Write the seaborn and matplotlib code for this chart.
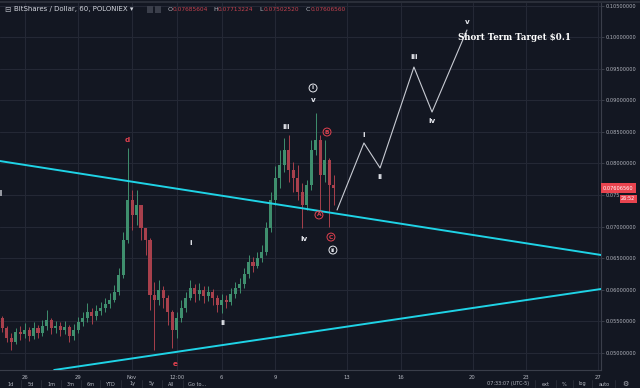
import numpy as np
import pandas as pd
import matplotlib
matplotlib.use("Agg")
import matplotlib.pyplot as plt
import seaborn as sns
from matplotlib.lines import Line2D
from matplotlib.patches import Rectangle

BG = "#131722"
GRID = "#242835"
TEXT = "#b2b5be"
UP = "#3f8f6e"
DOWN = "#a8404c"
RED = "#e0414f"
CYAN = "#1fd3e6"
WHITE = "#e6e8ee"

# 6-hour candles, x = day of October (Nov 1 = 32)
candle_start_day = 24.75
candle_step = 0.25
first_open = 0.0555
closes = [
    0.05391, 0.05233, 0.05169, 0.05328, 0.05296, 0.05360, 0.05265, 0.05391, 0.05312, 0.05423,
    0.05518, 0.05391, 0.05423, 0.05360, 0.05407, 0.05265, 0.05360, 0.05486, 0.05550, 0.05645,
    0.05582, 0.05661, 0.05708, 0.05772, 0.05835, 0.05962, 0.06232, 0.06786, 0.07420, 0.07183,
    0.07341, 0.06976, 0.06786, 0.05915, 0.05835, 0.05994, 0.05867, 0.05645, 0.05360, 0.05550,
    0.05708, 0.05867, 0.06026, 0.05931, 0.05994, 0.05899, 0.05962, 0.05867, 0.05756, 0.05835,
    0.05804, 0.05931, 0.06026, 0.06089, 0.06248, 0.06438, 0.06374, 0.06501, 0.06596, 0.06976,
    0.07420, 0.07769, 0.07975, 0.08213, 0.07896, 0.07769, 0.07547, 0.07341, 0.07658, 0.08213,
    0.08371, 0.07817, 0.08054, 0.07658, 0.07607,
]
highs = [
    0.05582, 0.05423, 0.05312, 0.05391, 0.05423, 0.05470, 0.05407, 0.05486, 0.05439, 0.05518,
    0.05677, 0.05550, 0.05502, 0.05486, 0.05502, 0.05439, 0.05455, 0.05566, 0.05645, 0.05788,
    0.05708, 0.05756, 0.05804, 0.05867, 0.05946, 0.06073, 0.06343, 0.06913, 0.08245, 0.07579,
    0.07579, 0.07341, 0.06945, 0.06818, 0.06121, 0.06152, 0.06057, 0.05915, 0.05677, 0.05645,
    0.05835, 0.05962, 0.06152, 0.06089, 0.06105, 0.06057, 0.06057, 0.06010, 0.05915, 0.05931,
    0.05915, 0.06026, 0.06121, 0.06184, 0.06343, 0.06549, 0.06517, 0.06596, 0.06707, 0.07072,
    0.07547, 0.07959, 0.08213, 0.08403, 0.08451, 0.08023, 0.07975, 0.07690, 0.07737, 0.08371,
    0.08799, 0.08451, 0.08371, 0.08086, 0.07817,
]
lows = [
    0.05328, 0.05169, 0.05043, 0.05137, 0.05201, 0.05233, 0.05185, 0.05217, 0.05233, 0.05265,
    0.05360, 0.05296, 0.05312, 0.05265, 0.05296, 0.05169, 0.05201, 0.05312, 0.05423, 0.05486,
    0.05455, 0.05518, 0.05598, 0.05645, 0.05708, 0.05804, 0.05915, 0.06184, 0.06739, 0.06945,
    0.07024, 0.06786, 0.06549, 0.05677, 0.05043, 0.05756, 0.05708, 0.05439, 0.05074, 0.05233,
    0.05486, 0.05645, 0.05835, 0.05804, 0.05835, 0.05788, 0.05820, 0.05756, 0.05645, 0.05629,
    0.05708, 0.05756, 0.05867, 0.05946, 0.06026, 0.06184, 0.06279, 0.06343, 0.06438, 0.06549,
    0.06913, 0.07341, 0.07611, 0.07864, 0.07706, 0.07547, 0.07420, 0.06976, 0.07262, 0.07579,
    0.08134, 0.07262, 0.07706, 0.06992, 0.07341,
]

# trend lines
upper_days = [24.63, 58.17]
upper_prices = [0.08038, 0.06549]
lower_days = [27.65, 58.17]
lower_prices = [0.04726, 0.06010]

# projected wave path
proj_days = [43.44, 44.94, 45.84, 47.73, 48.74, 50.69]
proj_prices = [0.07262, 0.08324, 0.07928, 0.09528, 0.08815, 0.10115]

# wave labels: text, day, price, colour, circled
wave_labels = [
    ("d", 31.72, 0.08372, "red", False),
    ("e", 34.40, 0.04818, "red", False),
    ("i", 35.29, 0.06739, "white", False),
    ("ii", 37.08, 0.05471, "white", False),
    ("iii", 40.59, 0.08578, "white", False),
    ("iv", 41.60, 0.06801, "white", False),
    ("v", 42.10, 0.09006, "white", False),
    ("i", 42.10, 0.09196, "white", True),
    ("A", 42.43, 0.07183, "red", True),
    ("B", 42.88, 0.08498, "red", True),
    ("C", 43.10, 0.06833, "red", True),
    ("ii", 43.21, 0.06627, "white", True),
    ("i", 44.94, 0.08451, "white", False),
    ("ii", 45.84, 0.07785, "white", False),
    ("iii", 47.73, 0.09687, "white", False),
    ("iv", 48.74, 0.08672, "white", False),
    ("v", 50.69, 0.10242, "white", False),
]

tick_days = [26, 29, 32, 34.5, 37, 40, 44, 47, 51, 54, 58]
tick_labels = ["26", "29", "Nov", "12:00", "6", "9", "13", "16", "20", "23", "27"]
price_ticks = [0.050, 0.055, 0.060, 0.065, 0.070, 0.075, 0.080, 0.085, 0.090, 0.095, 0.100, 0.105]
# the 0.075 label is partly covered by the countdown box in the original
price_labels = ["0.05000000", "0.05500000", "0.06000000", "0.06500000", "0.07000000", "0.075",
                "0.08000000", "0.08500000", "0.09000000", "0.09500000", "0.10000000", "0.10500000"]

ohlc = [("O", "0.07685604"), ("H", "0.07713224"), ("L", "0.07502520"), ("C", "0.07606560")]
last_price_text = "0.07606560"
timer_text = "26:52"

sns.set_theme(style="dark")
plt.rcParams["font.family"] = ["DejaVu Sans"]

fig = plt.figure(figsize=(6.4, 3.88), dpi=100)
fig.patch.set_facecolor(BG)
W, H = 640, 388
ax = fig.add_axes([0, (H - 370) / H, 601 / W, 367 / H])
ax.set_facecolor(BG)

df = pd.DataFrame({"close": closes, "high": highs, "low": lows})
df["day"] = candle_start_day + candle_step * np.arange(len(df))
df["open"] = [first_open] + closes[:-1]
df["high"] = df[["high", "open", "close"]].max(axis=1)
df["low"] = df[["low", "open", "close"]].min(axis=1)
up = df["close"] >= df["open"]
colors = np.where(up, UP, DOWN)

ax.vlines(df["day"], df["low"], df["high"], colors=colors, lw=0.7, zorder=2)
ax.bar(df["day"], (df["close"] - df["open"]).abs().clip(lower=0.00015),
       bottom=df[["open", "close"]].min(axis=1), width=0.17,
       color=colors, edgecolor="none", zorder=3)

sns.lineplot(x=upper_days, y=upper_prices, ax=ax, color=CYAN, lw=1.4, zorder=4)
sns.lineplot(x=lower_days, y=lower_prices, ax=ax, color=CYAN, lw=1.4, zorder=4)
sns.lineplot(x=proj_days, y=proj_prices, ax=ax, sort=False, color="#c8cbd3",
             lw=0.8, zorder=4)

for text, d, p, col, circled in wave_labels:
    c = RED if col == "red" else WHITE
    if circled:
        ax.text(d, p, text, ha="center", va="center", color=c, fontsize=4.2,
                fontweight="bold", zorder=6,
                bbox=dict(boxstyle="circle,pad=0.25", fc="none", ec=c, lw=0.7))
    else:
        ax.text(d, p, text, ha="center", va="center", color=c, fontsize=5.2,
                fontweight="bold", zorder=6)

ax.text(50.2, 0.1000, "Short Term Target $0.1", ha="left", va="center",
        color="white", fontsize=6.2, fontweight="bold", family="DejaVu Serif",
        zorder=6, clip_on=True)

ax.set_xlim(24.63, 58.17)
ax.set_ylim(0.04726, 0.10543)
ax.set_xticks(tick_days)
ax.set_xticklabels(tick_labels)
ax.yaxis.tick_right()
ax.set_yticks(price_ticks)
ax.set_yticklabels(price_labels)
ax.tick_params(axis="x", colors="#4a4e59", labelcolor=TEXT, labelsize=3.8,
               length=2, width=0.5, pad=1.5)
ax.tick_params(axis="y", colors="#4a4e59", labelcolor=TEXT, labelsize=3.6,
               length=2, width=0.5, pad=1.5)
ax.grid(True, color=GRID, lw=0.8)
for s in ["top", "left"]:
    ax.spines[s].set_visible(False)
for s in ["right", "bottom"]:
    ax.spines[s].set_color("#3a3e4a")
    ax.spines[s].set_linewidth(0.8)

# last price box and timer
ax.text(1.003, closes[-1], last_price_text, transform=ax.get_yaxis_transform(),
        ha="left", va="center", color="white", fontsize=3.6, zorder=8, clip_on=False,
        bbox=dict(boxstyle="square,pad=0.45", fc="#e8444f", ec="none"))
ax.annotate(timer_text, xy=(1.0, closes[-1]), xycoords=ax.get_yaxis_transform(),
            xytext=(14.5, -7.5), textcoords="offset points", ha="left", va="center",
            color="white", fontsize=3.6, zorder=8, annotation_clip=False,
            bbox=dict(boxstyle="square,pad=0.3", fc="#e8444f", ec="none"))

# header
hy = 1 - 9.5 / H
fig.text(4 / W, hy, "\u229f", color=TEXT, fontsize=5.5, va="center")
fig.text(14 / W, hy, "BitShares / Dollar, 60, POLONIEX \u25be", color="#d1d4dc",
         fontsize=5.0, va="center")
for x0 in [147, 155]:
    fig.patches.append(Rectangle((x0 / W, hy - 3 / H), 6 / W, 6 / H,
                                 transform=fig.transFigure, fc="#3a3e4a", ec="none"))
for (k, v), x0 in zip(ohlc, [168, 213, 259, 306]):
    fig.text(x0 / W, hy, k, color=TEXT, fontsize=4.6, va="center")
    fig.text((x0 + 5) / W, hy, v, color="#c4424f", fontsize=4.2, va="center")

# left edge marker and top border
fig.patches.append(Rectangle((0, 1 - 196 / H), 2 / W, 6 / H,
                             transform=fig.transFigure, fc="#9598a1", ec="none"))
fig.lines.append(Line2D([0, 1], [1 - 1.5 / H] * 2, transform=fig.transFigure,
                        color="#2a2e39", lw=1.5))

# bottom toolbar
by = 1 - 384 / H
for t, x0 in zip(["1d", "5d", "1m", "3m", "6m", "YTD", "1y", "5y", "All", "Go to..."],
                 [11, 31, 51, 71, 91, 110, 133, 152, 171, 197]):
    fig.text(x0 / W, by, t, color=TEXT, fontsize=3.6, va="center", ha="center")
for t, x0 in zip(["07:33:07 (UTC-5)", "ext", "%", "log", "auto", "\u2699"],
                 [508, 546, 564, 582, 604, 625]):
    fig.text(x0 / W, by, t, color=TEXT, fontsize=3.6 if t != "\u2699" else 5,
             va="center", ha="center")
for x0 in [21, 41, 61, 81, 100, 121, 142, 162, 183, 535, 556, 573, 592, 615]:
    fig.lines.append(Line2D([x0 / W] * 2, [1 - 380 / H, 1 - 388 / H],
                            transform=fig.transFigure, color="#2a2e39", lw=0.6))

fig.savefig("out.png", dpi=100, facecolor=BG)
